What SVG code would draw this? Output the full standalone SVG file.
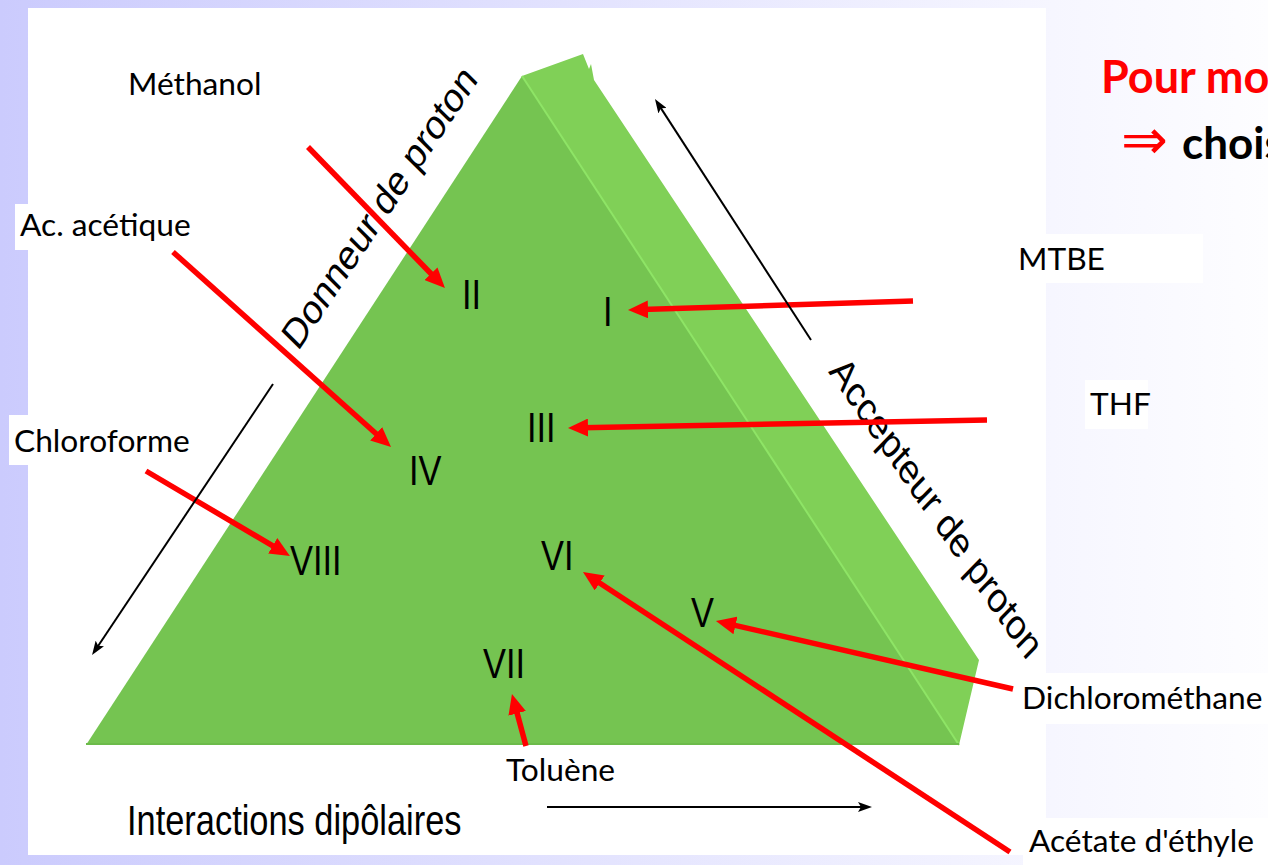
<svg xmlns="http://www.w3.org/2000/svg" width="1268" height="865" viewBox="0 0 1268 865">
<defs>
<linearGradient id="bg" x1="0" y1="0" x2="1268" y2="0" gradientUnits="userSpaceOnUse">
<stop offset="0" stop-color="#cbcbfd"/>
<stop offset="0.83" stop-color="#f6f6ff"/>
<stop offset="1" stop-color="#fdfdff"/>
</linearGradient>
<marker id="rh" viewBox="0 0 20 18" markerWidth="20" markerHeight="18" refX="6" refY="9" orient="auto" markerUnits="userSpaceOnUse">
<path d="M0,0 L20,9 L0,18 z" fill="#ff0000"/>
</marker>
<marker id="bh" viewBox="0 0 14 10" markerWidth="14" markerHeight="10" refX="4" refY="5" orient="auto" markerUnits="userSpaceOnUse">
<path d="M0,0 L14,5 L0,10 L3,5 z" fill="#000"/>
</marker>
</defs>
<style>
.lbl{font-family:Lato,"Liberation Sans",sans-serif;font-size:31.7px;fill:#000}
.ar{font-family:"Liberation Sans",Arial,sans-serif;font-size:34.4px;fill:#000}
.box{fill:#fff}
.red{stroke:#ff0000;stroke-width:5.5;fill:none;marker-end:url(#rh)}
.blk{stroke:#000;stroke-width:2;fill:none;marker-end:url(#bh)}
</style>
<rect x="0" y="0" width="1268" height="865" fill="url(#bg)"/>
<rect x="28" y="8" width="1018" height="847" fill="#fff"/>

<g id="prism">
<polygon points="522,76 583,54 589,69 591,64 594,80 979,660 959,745" fill="#80d057"/>
<polygon points="522,76 959,745 86,745" fill="#75c451"/>
<line x1="522" y1="76" x2="959" y2="745" stroke="#8ee466" stroke-width="2"/>
<line x1="86" y1="744" x2="959" y2="744" stroke="#6cbb4a" stroke-width="2"/>
</g>

<g id="axes">
<text class="ar" transform="translate(298,352) scale(1,1.22) rotate(-50.9)">Donneur de proton</text>
<text class="ar" transform="translate(828,372) scale(1,1.22) rotate(50)">Accepteur de proton</text>
<text class="ar" transform="translate(127,835) scale(1,1.22)">Interactions dipôlaires</text>
</g>

<g id="numerals">
<text id="n-I" class="ar" transform="translate(603,326) scale(1,1.22)">I</text>
<text id="n-II" class="ar" transform="translate(462,309) scale(1,1.22)">II</text>
<text id="n-III" class="ar" transform="translate(527,442) scale(1,1.22)">III</text>
<text id="n-IV" class="ar" transform="translate(409,485) scale(1,1.22)">IV</text>
<text id="n-V" class="ar" transform="translate(691,627) scale(1,1.22)">V</text>
<text id="n-VI" class="ar" transform="translate(541,570) scale(1,1.22)">VI</text>
<text id="n-VII" class="ar" transform="translate(483,678) scale(1,1.22)">VII</text>
<text id="n-VIII" class="ar" transform="translate(290,575) scale(1,1.22)">VIII</text>
</g>

<g id="methanol"><text class="lbl" x="128" y="95">Méthanol</text></g>
<g id="acetique"><rect class="box" x="15" y="204" width="185" height="46"/><text class="lbl" x="20" y="236">Ac. acétique</text></g>
<g id="chloroforme"><rect class="box" x="9" y="415" width="190" height="50"/><text class="lbl" x="14" y="452">Chloroforme</text></g>
<g id="mtbe"><rect class="box" x="1005" y="234" width="198" height="49"/><text class="lbl" x="1018" y="270">MTBE</text></g>
<g id="thf"><rect class="box" x="1085" y="380" width="63" height="49"/><text class="lbl" x="1090" y="415">THF</text></g>
<g id="dichloro"><rect class="box" x="1015" y="673" width="253" height="51"/><text class="lbl" x="1022" y="709">Dichlorométhane</text></g>
<g id="acetate"><rect class="box" x="1023" y="818" width="245" height="47"/><text class="lbl" x="1029" y="852">Acétate d'éthyle</text></g>
<g id="toluene"><text class="lbl" x="506" y="781">Toluène</text></g>

<g id="title">
<text x="1101" y="93" font-family="Lato,'Liberation Sans',sans-serif" font-weight="bold" font-size="45" fill="#ff0000">Pour mo</text>
<text x="1121" y="159" font-family="Lato,'Liberation Sans',sans-serif" font-weight="bold" font-size="44" fill="#000"><tspan fill="#ff0000" font-family="'DejaVu Sans',sans-serif" font-weight="normal" font-size="56">⇒</tspan><tspan x="1182">chois</tspan></text>
</g>

<g id="connectors">
<path class="red" d="M308,147 L435.2,278"/>
<path class="red" d="M173,252 L380.6,437.7"/>
<path class="red" d="M146,471 L277.9,548.9"/>
<path class="red" d="M913,301 L642,309.6"/>
<path class="red" d="M987,420 L582,427.7"/>
<path class="red" d="M1013,689 L729.6,624.1"/>
<path class="red" d="M1010,852 L594.7,579.7"/>
<path class="red" d="M526,746 L515.6,707.5"/>
<path class="blk" d="M811,340 L660.4,107.4"/>
<path class="blk" d="M273,384 L97.6,646.7"/>
<path class="blk" d="M547,807 L862,807"/>
</g>
</svg>
